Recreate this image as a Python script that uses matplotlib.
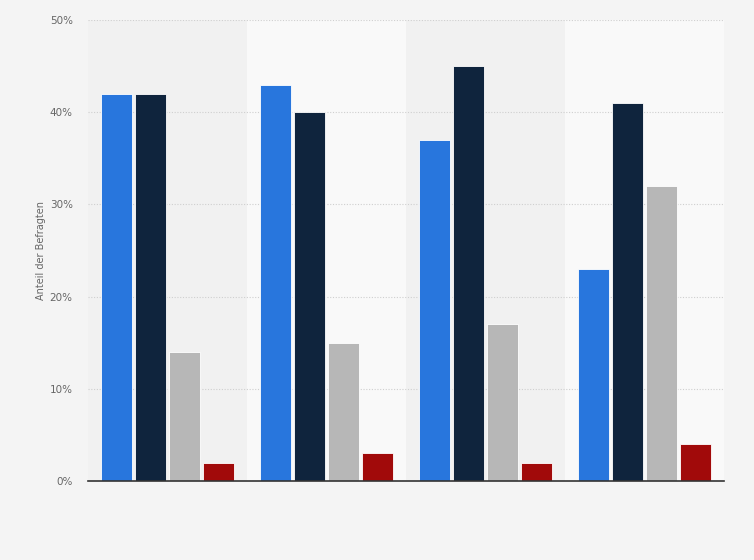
import numpy as np
import matplotlib.pyplot as plt
from matplotlib.ticker import FuncFormatter

# values per group (4 groups, 4 series)
series_a = [42, 43, 37, 23]
series_b = [42, 40, 45, 41]
series_c = [14, 15, 17, 32]
series_d = [2, 3, 2, 4]
colors = ["#2876dd", "#0f243d", "#b7b7b7", "#a10a0a"]
y_ticks = [0, 10, 20, 30, 40, 50]

fig = plt.figure(figsize=(7.54, 5.60), dpi=100)
fig.patch.set_facecolor("#f4f4f4")
ax = fig.add_axes([0.1167, 0.1411, 0.8435, 0.8232])
ax.set_facecolor("#f4f4f4")

n = len(series_a)
x = np.arange(n)
width = 0.195
offsets = [-1.5, -0.5, 0.5, 1.5]

# alternating background bands
band_cols = ["#f1f1f1", "#f9f9f9", "#f1f1f1", "#f9f9f9"]
for i in range(n):
    ax.axvspan(i - 0.5, i + 0.5, color=band_cols[i], zorder=0, lw=0)

for vals, off, c in zip([series_a, series_b, series_c, series_d], offsets, colors):
    ax.bar(x + off * (width + 0.019), vals, width, color=c, edgecolor="white",
           linewidth=0.6, zorder=3)

ax.set_xlim(-0.5, n - 0.5)
ax.set_ylim(0, 50)
ax.set_yticks(y_ticks)
ax.yaxis.set_major_formatter(FuncFormatter(lambda v, p: f"{int(v)}%"))
ax.set_xticks([])
ax.grid(axis="y", color="#cfcfcf", linestyle=(0, (1, 1.5)), linewidth=0.8, zorder=1)
for s in ["top", "right", "left"]:
    ax.spines[s].set_visible(False)
ax.spines["bottom"].set_color("#333333")
ax.spines["bottom"].set_linewidth(1.2)
ax.spines["bottom"].set_zorder(4)
ax.tick_params(axis="y", length=0, labelsize=7.5, labelcolor="#666666", pad=11)

ax.set_ylabel("Anteil der Befragten", fontsize=7, color="#666666", labelpad=3)

fig.savefig("out.png", dpi=100, facecolor=fig.get_facecolor())
